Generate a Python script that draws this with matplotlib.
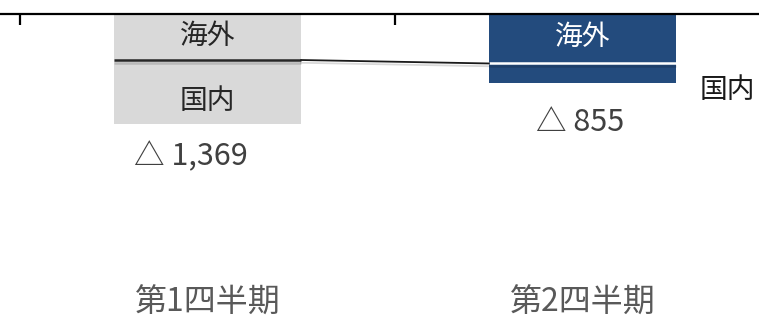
import matplotlib.pyplot as plt
import matplotlib.patheffects as pe
import matplotlib.transforms as mtransforms

plt.rcParams['font.family'] = ['Noto Sans CJK JP', 'DejaVu Sans']

# quarterly operating result (million yen), split by region
quarters = ['第1四半期', '第2四半期']
overseas = [-573, -616]
domestic = [-796, -239]
segment_names = ['海外', '国内']

bar_colors = ['#d9d9d9', '#234b7d']
text_colors = ['#262626', '#ffffff']
divider_colors = ['#262626', '#ffffff']

fig = plt.figure(figsize=(7.59, 3.20), dpi=100)
ax = fig.add_axes([0, 0, 1, 306 / 320])

x = list(range(len(quarters)))
width = 0.5
totals = [o + d for o, d in zip(overseas, domestic)]

ax.bar(x, overseas, width, color=bar_colors, linewidth=0)
ax.bar(x, domestic, width, bottom=overseas, color=bar_colors, linewidth=0)

shadow = [pe.SimpleLineShadow(offset=(0, -2), alpha=0.15, rho=0.6), pe.Normal()]

# dividers between the two segments, joined by a connector line
for i in x:
    ax.plot([i - width / 2, i + width / 2], [overseas[i], overseas[i]],
            color=divider_colors[i], lw=1.8, solid_capstyle='butt',
            path_effects=shadow, zorder=3)
ax.plot([x[0] + width / 2, x[1] - width / 2], [overseas[0], overseas[1]],
        color='#1a1a1a', lw=1.3, path_effects=shadow, zorder=3)

# segment labels
overseas_dy = [1, 1.5]
for i in x:
    ax.annotate(segment_names[0], xy=(i, overseas[i] / 2), xytext=(0, overseas_dy[i]),
                textcoords='offset points', ha='center', va='center',
                fontsize=20, color=text_colors[i])
ax.annotate(segment_names[1], xy=(x[0], overseas[0] + domestic[0] / 2),
            xytext=(0, -6.5), textcoords='offset points', ha='center', va='center',
            fontsize=20, color=text_colors[0])
ax.annotate(segment_names[1], xy=(x[1] + width / 2, overseas[1] + domestic[1] / 2),
            xytext=(17, -12), textcoords='offset points', ha='left', va='center',
            fontsize=20, color='#1a1a1a')

# totals under each bar
label_dx = [-12, -1.5]
label_dy = [-24, -29]
for i in x:
    ax.annotate(f'△ {-totals[i]:,}', xy=(i, totals[i]),
                xytext=(label_dx[i], label_dy[i]), textcoords='offset points',
                ha='center', va='center', fontsize=22, color='#404040')

# category names at the foot of the chart
trans = mtransforms.blended_transform_factory(ax.transData, fig.transFigure)
for i in x:
    ax.text(i, 0.054, quarters[i], transform=trans, ha='center', va='center',
            fontsize=23, color='#595959')

for side in ['left', 'right', 'bottom']:
    ax.spines[side].set_visible(False)
ax.spines['top'].set_linewidth(1.6)
ax.spines['top'].set_color('#000000')
ax.xaxis.tick_top()
ax.set_xticks([-0.5, 0.5, 1.5])
ax.tick_params(axis='x', direction='in', length=8, width=1.6, labeltop=False)
ax.set_yticks([])

ax.set_xlim(-0.5 - 20 / 375, 0.5 + 364 / 375)
ax.set_ylim(-306 / 0.0803, 0)

fig.savefig('out.png', dpi=100)
